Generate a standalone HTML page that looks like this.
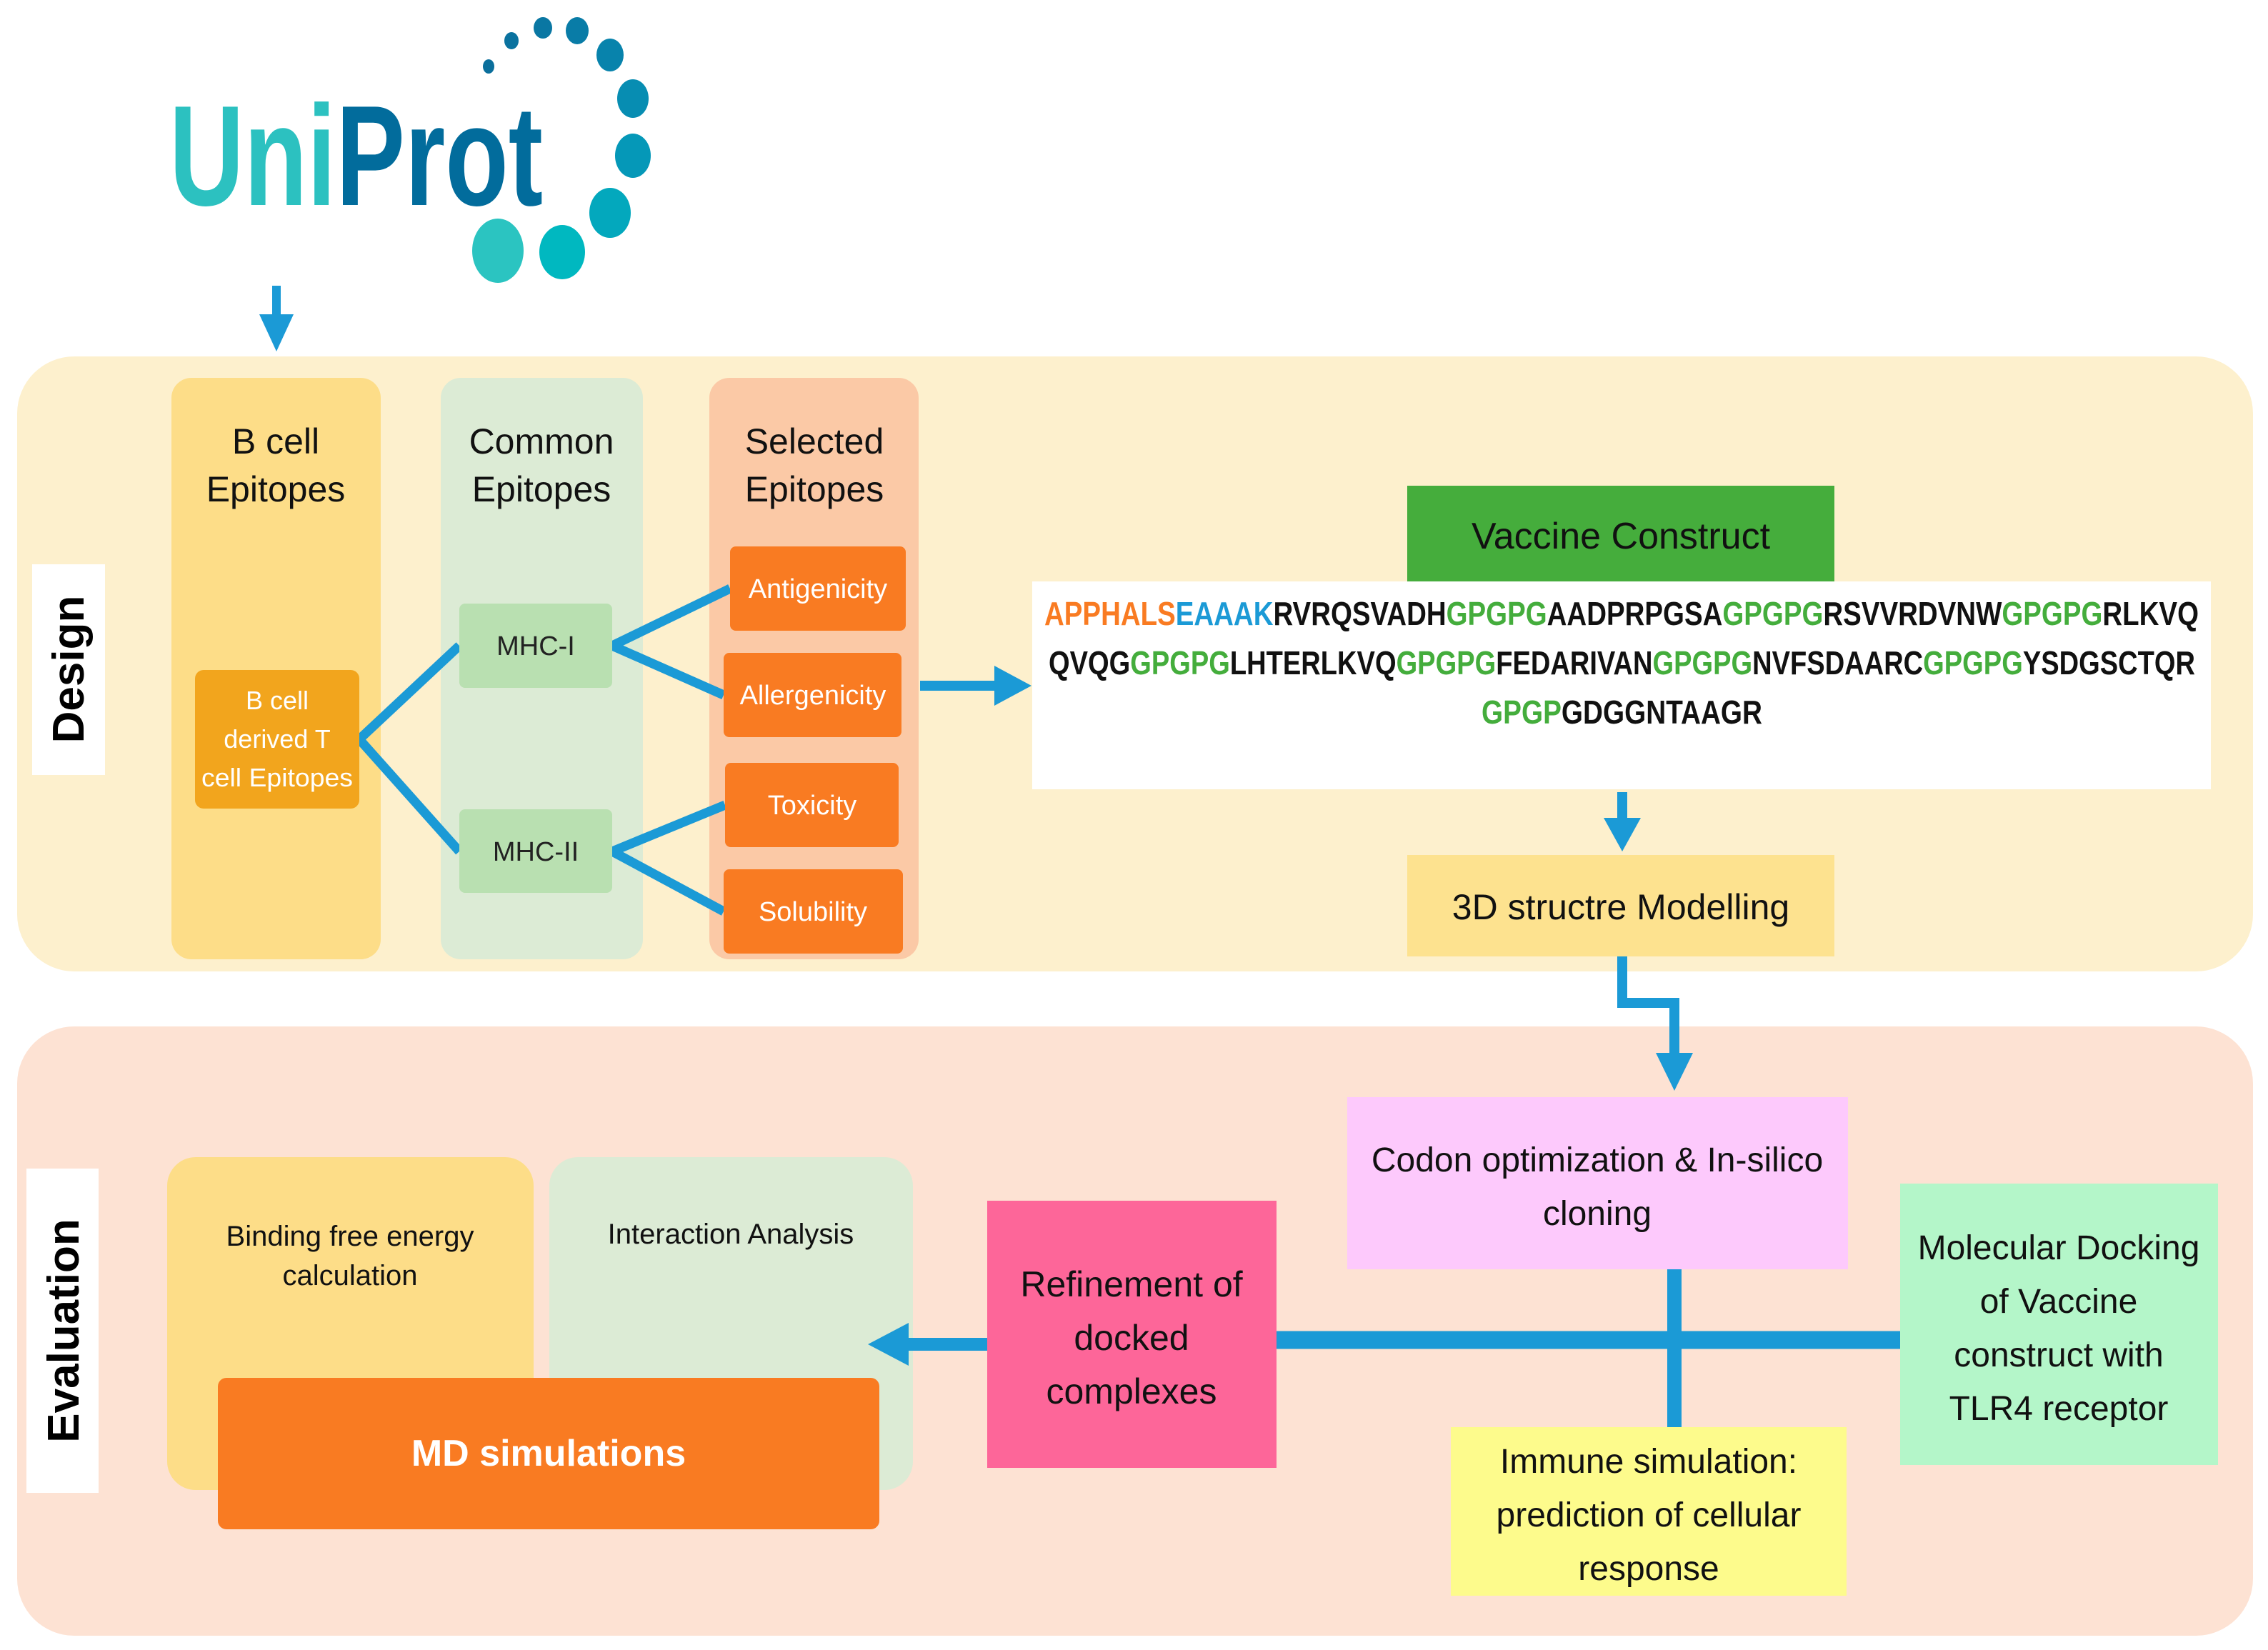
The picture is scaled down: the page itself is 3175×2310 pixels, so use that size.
<!DOCTYPE html>
<html><head><meta charset="utf-8"><style>
html,body{margin:0;padding:0;background:#fff;}
svg{display:block}
text{font-family:"Liberation Sans Narrow","Liberation Sans",sans-serif;}
</style></head><body>
<svg width="3175" height="2310" viewBox="0 0 3175 2310" xmlns="http://www.w3.org/2000/svg">
<!-- UniProt logo -->
<text x="237" y="287" font-size="200" font-weight="bold" textLength="523" lengthAdjust="spacingAndGlyphs" style="font-family:'Liberation Sans',sans-serif"><tspan fill="#2cc1c0">Uni</tspan><tspan fill="#026c9c">Prot</tspan></text>
<g>
<ellipse cx="684" cy="93" rx="8" ry="10" fill="#0b6f9c"/>
<ellipse cx="716" cy="57" rx="10" ry="12" fill="#0a729f"/>
<ellipse cx="760" cy="39" rx="13" ry="15" fill="#0a77a3"/>
<ellipse cx="808" cy="43" rx="16" ry="19" fill="#097ca7"/>
<ellipse cx="854" cy="77" rx="19" ry="23" fill="#0883ac"/>
<ellipse cx="886" cy="138" rx="22" ry="27" fill="#078db2"/>
<ellipse cx="886" cy="218" rx="25" ry="31" fill="#0598b8"/>
<ellipse cx="854" cy="298" rx="29" ry="35" fill="#03a8bd"/>
<ellipse cx="787" cy="353" rx="32" ry="38" fill="#00b8c0"/>
<ellipse cx="697" cy="351" rx="36" ry="45" fill="#2bc4c1"/>
</g>
<line x1="387" y1="400" x2="387" y2="445" stroke="#1b9ad6" stroke-width="12"/>
<path d="M363,440 L411,440 L387,492 Z" fill="#1b9ad6"/>

<rect x="24" y="499" width="3130" height="861" rx="80" fill="#fdf0cd"/>
<rect x="45" y="790" width="102" height="295" fill="#fff"/>
<text transform="translate(117,937) rotate(-90)" font-size="62" font-weight="bold" text-anchor="middle" fill="#000" style="font-family:'Liberation Sans',sans-serif">Design</text>

<rect x="240" y="529" width="293" height="814" rx="28" fill="#fddd88"/>
<rect x="617" y="529" width="283" height="814" rx="28" fill="#dcebd5"/>
<rect x="993" y="529" width="293" height="814" rx="28" fill="#fbc9a6"/>
<g font-size="50" text-anchor="middle" fill="#111">
<text x="386" y="635">B cell</text><text x="386" y="702">Epitopes</text>
<text x="758" y="635">Common</text><text x="758" y="702">Epitopes</text>
<text x="1140" y="635">Selected</text><text x="1140" y="702">Epitopes</text>
</g>
<g stroke="#1b9ad6" stroke-width="13" fill="none">
<line x1="503" y1="1035" x2="643" y2="904"/>
<line x1="503" y1="1035" x2="643" y2="1192"/>
<line x1="857" y1="904" x2="1022" y2="824"/>
<line x1="857" y1="904" x2="1013" y2="973"/>
<line x1="857" y1="1192" x2="1015" y2="1127"/>
<line x1="857" y1="1192" x2="1013" y2="1276"/>
</g>
<rect x="273" y="938" width="230" height="194" rx="12" fill="#f2a51d"/>
<g font-size="36" text-anchor="middle" fill="#fff">
<text x="388" y="993">B cell</text><text x="388" y="1047">derived T</text><text x="388" y="1101" textLength="212" lengthAdjust="spacingAndGlyphs">cell Epitopes</text>
</g>
<rect x="643" y="845" width="214" height="118" rx="8" fill="#b9e0b1"/>
<rect x="643" y="1133" width="214" height="117" rx="8" fill="#b9e0b1"/>
<g font-size="38" text-anchor="middle" fill="#222">
<text x="750" y="917">MHC-I</text><text x="750" y="1205">MHC-II</text>
</g>
<g fill="#f97b22">
<rect x="1022" y="765" width="246" height="118" rx="8"/>
<rect x="1013" y="914" width="249" height="118" rx="8"/>
<rect x="1015" y="1068" width="243" height="118" rx="8"/>
<rect x="1013" y="1217" width="251" height="118" rx="8"/>
</g>
<g font-size="38" text-anchor="middle" fill="#fff">
<text x="1145" y="837">Antigenicity</text>
<text x="1138" y="986">Allergenicity</text>
<text x="1137" y="1140">Toxicity</text>
<text x="1138" y="1289">Solubility</text>
</g>
<line x1="1288" y1="960" x2="1400" y2="960" stroke="#1b9ad6" stroke-width="14"/>
<path d="M1392,932 L1444,960 L1392,988 Z" fill="#1b9ad6"/>

<rect x="1970" y="680" width="598" height="134" fill="#45ad3c"/>
<text x="2269" y="768" font-size="52" text-anchor="middle" fill="#111">Vaccine Construct</text>
<rect x="1445" y="814" width="1650" height="291" fill="#fff"/>
<g font-size="46" font-weight="bold" fill="#111">
<text x="1462" y="875" textLength="1616" lengthAdjust="spacingAndGlyphs"><tspan fill="#f97b22">APPHALS</tspan><tspan fill="#1b9ad6">EAAAK</tspan>RVRQSVADH<tspan fill="#44ad3c">GPGPG</tspan>AADPRPGSA<tspan fill="#44ad3c">GPGPG</tspan>RSVVRDVNW<tspan fill="#44ad3c">GPGPG</tspan>RLKVQ</text>
<text x="1468" y="944" textLength="1605" lengthAdjust="spacingAndGlyphs">QVQG<tspan fill="#44ad3c">GPGPG</tspan>LHTERLKVQ<tspan fill="#44ad3c">GPGPG</tspan>FEDARIVAN<tspan fill="#44ad3c">GPGPG</tspan>NVFSDAARC<tspan fill="#44ad3c">GPGPG</tspan>YSDGSCTQR</text>
<text x="2074" y="1013" textLength="393" lengthAdjust="spacingAndGlyphs"><tspan fill="#44ad3c">GPGP</tspan>GDGGNTAAGR</text>
</g>
<line x1="2271" y1="1109" x2="2271" y2="1150" stroke="#1b9ad6" stroke-width="14"/>
<path d="M2245,1145 L2297,1145 L2271,1192 Z" fill="#1b9ad6"/>
<rect x="1970" y="1197" width="598" height="142" fill="#fde28f"/>
<text x="2269" y="1287" font-size="50" text-anchor="middle" fill="#111">3D structre Modelling</text>

<rect x="24" y="1437" width="3130" height="853" rx="80" fill="#fde2d3"/>
<polyline points="2271,1339 2271,1404 2344,1404 2344,1480" fill="none" stroke="#1b9ad6" stroke-width="14"/>
<path d="M2318,1474 L2370,1474 L2344,1527 Z" fill="#1b9ad6"/>

<rect x="37" y="1636" width="101" height="454" fill="#fff"/>
<text transform="translate(110,1863) rotate(-90)" font-size="62" font-weight="bold" text-anchor="middle" fill="#000" style="font-family:'Liberation Sans',sans-serif">Evaluation</text>

<rect x="234" y="1620" width="513" height="466" rx="40" fill="#fddd88"/>
<rect x="769" y="1620" width="509" height="466" rx="40" fill="#dcebd5"/>
<g font-size="40" text-anchor="middle" fill="#111">
<text x="490" y="1744">Binding free energy</text><text x="490" y="1799">calculation</text>
<text x="1023" y="1741">Interaction Analysis</text>
</g>
<rect x="305" y="1929" width="926" height="212" rx="12" fill="#f97b22"/>
<text x="768" y="2052" font-size="52" font-weight="bold" text-anchor="middle" fill="#fff">MD simulations</text>

<line x1="1787" y1="1876" x2="2660" y2="1876" stroke="#1b9ad6" stroke-width="25"/>
<line x1="2344" y1="1777" x2="2344" y2="1998" stroke="#1b9ad6" stroke-width="20"/>
<line x1="1265" y1="1882" x2="1384" y2="1882" stroke="#1b9ad6" stroke-width="18"/>
<path d="M1272,1852 L1215,1882 L1272,1912 Z" fill="#1b9ad6"/>

<rect x="1382" y="1681" width="405" height="374" fill="#fd6699"/>
<g font-size="50" text-anchor="middle" fill="#111">
<text x="1584" y="1815">Refinement of</text><text x="1584" y="1890">docked</text><text x="1584" y="1965">complexes</text>
</g>
<rect x="1886" y="1536" width="701" height="241" fill="#fdc9fc"/>
<g font-size="48" text-anchor="middle" fill="#111">
<text x="2236" y="1640">Codon optimization &amp; In-silico</text><text x="2236" y="1715">cloning</text>
</g>
<rect x="2031" y="1998" width="554" height="236" fill="#fdfb8c"/>
<g font-size="48" text-anchor="middle" fill="#111">
<text x="2308" y="2062">Immune simulation:</text><text x="2308" y="2137">prediction of cellular</text><text x="2308" y="2212">response</text>
</g>
<rect x="2660" y="1657" width="445" height="394" fill="#b4f6c9"/>
<g font-size="48" text-anchor="middle" fill="#111">
<text x="2882" y="1763">Molecular Docking</text><text x="2882" y="1838">of Vaccine</text><text x="2882" y="1913">construct with</text><text x="2882" y="1988">TLR4 receptor</text>
</g>
</svg>
</body></html>
